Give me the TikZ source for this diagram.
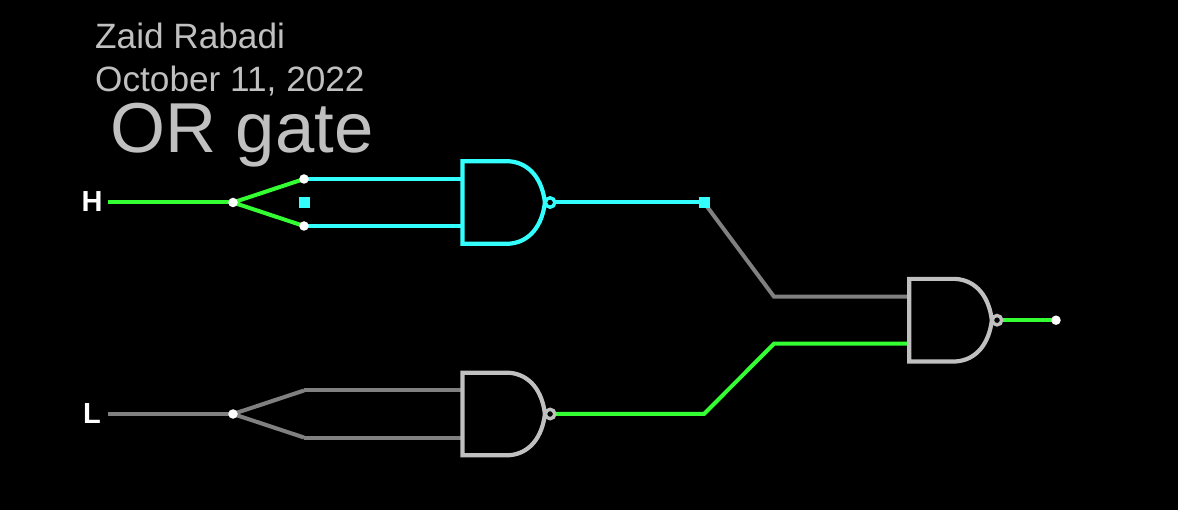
\documentclass[tikz,border=0pt]{standalone}
\usepackage{fontspec}
\setmainfont{Liberation Sans}
\definecolor{hot}{HTML}{33FF33}
\definecolor{cyanw}{HTML}{33FFFF}
\definecolor{offw}{HTML}{808080}
\definecolor{gatec}{HTML}{C0C0C0}
\definecolor{txt}{HTML}{C0C0C0}
\pgfdeclarelayer{wires}
\pgfsetlayers{wires,main}
\tikzset{
  wire/.style={line width=4pt,line join=miter},
  dot/.style={circle,fill=white,draw=none,inner sep=0pt,minimum size=9.5pt},
  sq/.style={rectangle,fill=cyanw,draw=none,inner sep=0pt,minimum size=11pt},
  ttl/.style={anchor=base west,inner sep=0pt,text=txt},
  iolab/.style={anchor=base,inner sep=0pt,text=white,font=\fontsize{29}{29}\selectfont\bfseries},
  nand/.pic={
    \draw[pic actions,line width=4.2pt,line join=miter]
      (0,-41.3) -- (46,-41.3) .. controls (68,-40) and (80,-22) .. (82.5,0)
      .. controls (80,22) and (68,40) .. (46,41.3) -- (0,41.3) -- cycle;
    \draw[pic actions,line width=3.4pt,fill=black] (87.7,0) circle (4.7);
    \coordinate (-a) at (0,-23.5);
    \coordinate (-b) at (0,23.5);
    \coordinate (-o) at (92,0);
  },
}
\begin{document}
\begin{tikzpicture}[x=1pt,y=-1pt]
\begin{pgfonlayer}{wires}
\path[fill=black,use as bounding box] (0,0) rectangle (1178,510);
\end{pgfonlayer}

\node[ttl,font=\fontsize{35.2}{35.2}\selectfont] (author) at (95,49) {Zaid Rabadi};
\node[ttl,font=\fontsize{35.2}{35.2}\selectfont] (date) at (95,92) {October 11, 2022};
\node[ttl,font=\fontsize{70.7}{70.7}\selectfont] (title) at (110,153) {OR gate};
\node[iolab] (Hlab) at (92,211.5) {H};
\node[iolab] (Llab) at (92,423.5) {L};

\coordinate (hs) at (108,202.5);
\coordinate (ls) at (108,414);
\coordinate (hj) at (233,202.5);
\coordinate (lj) at (233,414);
\coordinate (ha) at (304,179);
\coordinate (hb) at (304,226);
\coordinate (la) at (304,390.5);
\coordinate (lb) at (304,437.5);
\coordinate (t1) at (704,202.5);
\coordinate (k1) at (774,296.7);
\coordinate (t2) at (704,414);
\coordinate (k2) at (774,343.7);
\coordinate (out) at (1056,320.2);

\pic[draw=cyanw] (g1) at (462.4,202.5) {nand};
\pic[draw=gatec] (g2) at (462.4,414) {nand};
\pic[draw=gatec] (g3) at (909.3,320.2) {nand};

\begin{pgfonlayer}{wires}
\draw[wire,hot] (hs) -- (hj);
\draw[wire,hot] (ha) -- (hj) -- (hb);
\draw[wire,cyanw] (ha) -- (g1-a);
\draw[wire,cyanw] (hb) -- (g1-b);
\draw[wire,cyanw] (g1-o) -- (t1);
\draw[wire,offw] (t1) -- (k1) -- (g3-a);
\draw[wire,offw] (ls) -- (lj);
\draw[wire,offw] (la) -- (lj) -- (lb);
\draw[wire,offw] (la) -- (g2-a);
\draw[wire,offw] (lb) -- (g2-b);
\draw[wire,hot] (g2-o) -- (t2) -- (k2) -- (g3-b);
\draw[wire,hot] (g3-o) -- (out);
\end{pgfonlayer}

\node[dot] (dhj) at (hj) {};
\node[dot] (dlj) at (lj) {};
\node[dot] (dha) at (ha) {};
\node[dot] (dhb) at (hb) {};
\node[dot] (dout) at (out) {};
\node[sq] (s1) at (304,203) {};
\node[sq] (s2) at (t1) {};
\end{tikzpicture}
\end{document}
